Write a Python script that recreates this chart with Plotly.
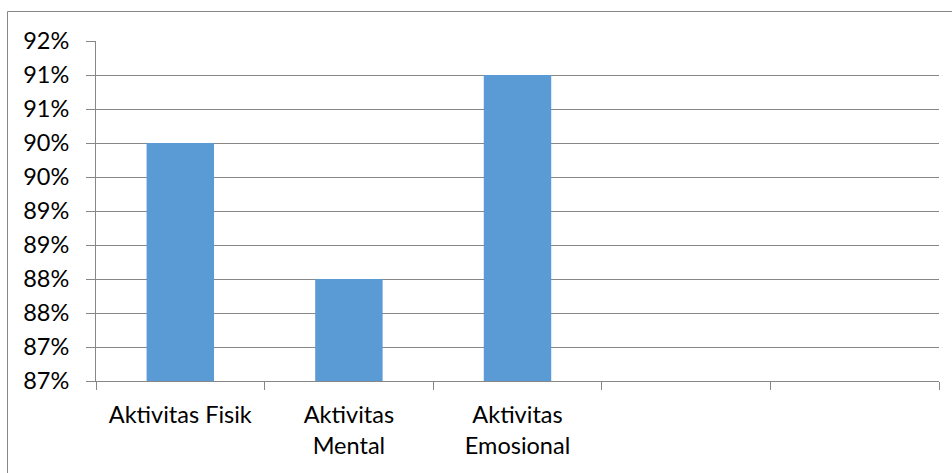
import plotly.graph_objects as go

categories = ["Aktivitas Fisik", "Aktivitas<br>Mental", "Aktivitas<br>Emosional", " ", "  "]
values = [90.0, 88.0, 91.0, None, None]
y_tickvals = [86.5, 87.0, 87.5, 88.0, 88.5, 89.0, 89.5, 90.0, 90.5, 91.0, 91.5]
y_ticktext = ["87%", "87%", "88%", "88%", "89%", "89%", "90%", "90%", "91%", "91%", "92%"]

W, H = 952, 473
L, R, T, B = 96, 13, 41, 92
pw = W - L - R
ph = H - T - B

line_col = "#878787"
font = dict(family="Lato, 'Open Sans', sans-serif", size=23.5, color="#000000")

fig = go.Figure()
fig.add_trace(go.Bar(x=categories, y=values, marker=dict(color="#5B9BD5", line=dict(width=0)),
                     hoverinfo="skip"))

fig.update_layout(
    width=W, height=H,
    margin=dict(l=L, r=R, t=T, b=B, autoexpand=False),
    paper_bgcolor="white", plot_bgcolor="white",
    bargap=0.6, showlegend=False, font=font,
    xaxis=dict(type="category", categoryorder="array", categoryarray=categories,
               range=[-0.5, 4.5], showgrid=False, showline=True, linecolor=line_col, linewidth=1,
               ticks="outside", tickson="boundaries", ticklen=8, tickcolor=line_col, tickwidth=1,
               ticklabelstandoff=13, tickfont=font, automargin=False),
    yaxis=dict(range=[86.5, 91.5], tickvals=y_tickvals, ticktext=y_ticktext,
               showgrid=True, gridcolor=line_col, gridwidth=1, zeroline=False,
               showline=True, linecolor=line_col, linewidth=1,
               ticks="outside", ticklen=9, tickcolor=line_col, tickwidth=1,
               ticklabelstandoff=12, tickfont=font, automargin=False),
)

# outer chart border (top and left edges visible)
x_left = (7.5 - L) / pw
y_top = (H - B - 11.5) / ph
fig.add_shape(type="line", xref="paper", yref="paper", x0=x_left, x1=1.1, y0=y_top, y1=y_top,
              line=dict(color=line_col, width=1))
fig.add_shape(type="line", xref="paper", yref="paper", x0=x_left, x1=x_left, y0=y_top, y1=-0.4,
              line=dict(color=line_col, width=1))

fig.write_html("out.html")
